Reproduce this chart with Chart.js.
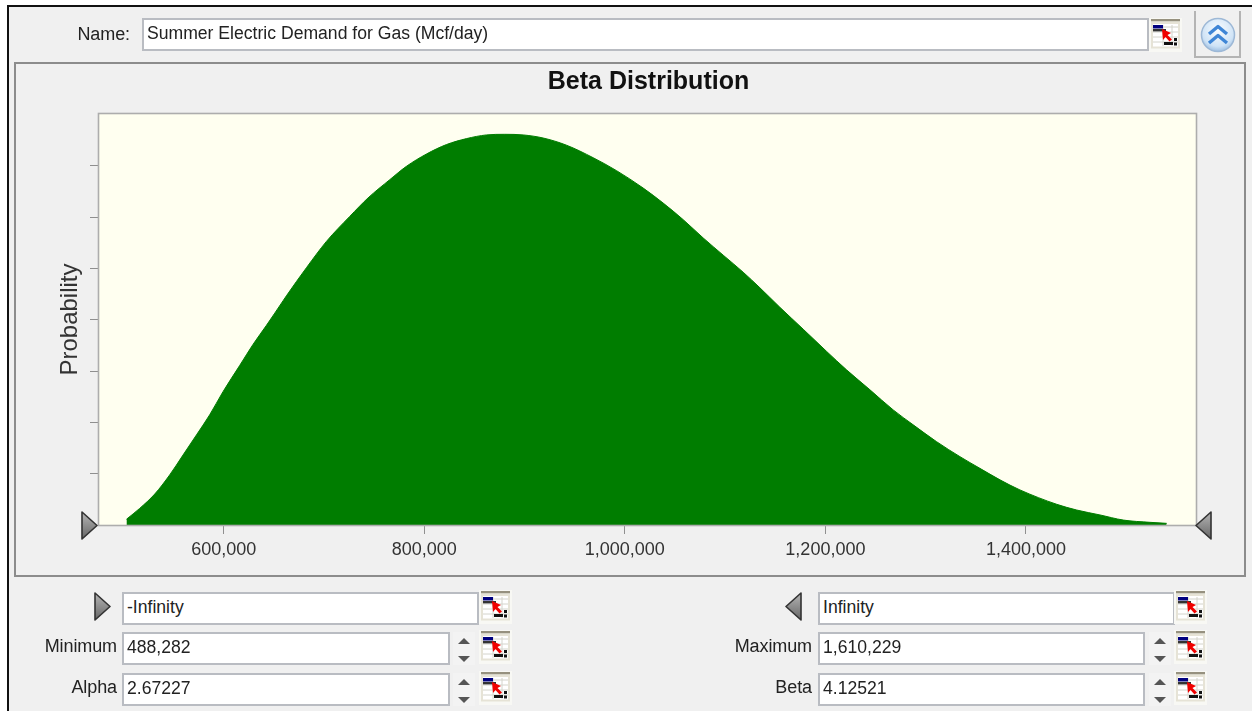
<!DOCTYPE html>
<html>
<head>
<meta charset="utf-8">
<title>Beta Distribution</title>
<script src="https://cdn.jsdelivr.net/npm/chart.js@4"></script>
<style>
html,body{margin:0;padding:0;background:#fff;overflow:hidden}
#frame{position:absolute;left:7px;top:5px;width:1245px;height:706px;box-sizing:border-box;border-left:2px solid #111;border-top:2px solid #111;background:#f0f0f0}
#panel{position:absolute;left:14px;top:62px;width:1232px;height:515px;box-sizing:border-box;border:2px solid #8c8c8c;background:#f0f0f0}
canvas{position:absolute;left:0;top:0}
.abs{position:absolute}
.lbl{position:absolute;font:18px "Liberation Sans",Arial,sans-serif;color:#222;text-align:right;white-space:nowrap;letter-spacing:-0.1px}
.box{position:absolute;box-sizing:border-box;background:#fff;border:2px solid #b9bcc2;font:17.6px "Liberation Sans",Arial,sans-serif;color:#222;padding-left:3px;white-space:nowrap;overflow:hidden}
</style>
</head>
<body>
<div id="frame"></div>
<div id="panel"></div>
<canvas id="c" width="1252" height="711"></canvas>
<div id="ui"></div>
<script>
const chartTitle = "Beta Distribution";
const yAxisTitle = "Probability";
const nameText = "Summer Electric Demand for Gas (Mcf/day)";
const xTickValues = [600000, 800000, 1000000, 1200000, 1400000];
const yTickValues = [0.25, 0.5, 0.75, 1, 1.25, 1.5, 1.75];
const demandValues = [503000,516200,531200,546100,559400,572800,586000,599300,616000,629200,642600,659200,662500,682500,702400,725700,743900,765600,782200,802200,822100,842100,862000,880300,898600,918500,941800,968400,991700,1018300,1038200,1058200,1078100,1098100,1118000,1134700,1154600,1177900,1201200,1221100,1244400,1267600,1287600,1310900,1334200,1354100,1374100,1394000,1430600,1450600,1473800,1497100,1523700,1540300];
const probabilityValues = [0.028,0.081,0.151,0.244,0.341,0.439,0.537,0.650,0.778,0.880,0.973,1.093,1.117,1.254,1.382,1.504,1.594,1.683,1.748,1.808,1.854,1.883,1.901,1.904,1.901,1.886,1.851,1.790,1.727,1.642,1.569,1.488,1.399,1.315,1.232,1.156,1.061,0.954,0.846,0.756,0.659,0.561,0.488,0.406,0.333,0.276,0.220,0.171,0.101,0.073,0.049,0.024,0.013,0.008];
const xRange = [475611, 1569576];
const yRange = [0, 2.003];

const plotFrame = {
  id: "plotFrame",
  beforeDatasetsDraw(ch) {
    const a = ch.chartArea, g = ch.ctx;
    g.save(); g.fillStyle = "#fffff0"; g.fillRect(a.left, a.top, a.width, a.height); g.restore();
  },
  afterDatasetsDraw(ch) {
    const a = ch.chartArea, g = ch.ctx;
    g.save(); g.strokeStyle = "#adadad"; g.lineWidth = 1.6;
    g.strokeRect(a.left - 0.5, a.top - 0.5, a.width + 1, a.height + 1); g.restore();
  }
};

new Chart(document.getElementById("c"), {
  type: "scatter",
  plugins: [plotFrame],
  data: { datasets: [{
    data: demandValues.map((x, i) => ({ x, y: probabilityValues[i] })),
    showLine: true, fill: "origin", backgroundColor: "#007d00", borderColor: "#007d00",
    borderWidth: 1, pointRadius: 0, cubicInterpolationMode: "monotone"
  }]},
  options: {
    responsive: false, animation: false, events: [],
    layout: { padding: { left: 50, right: 5, top: 67, bottom: 20 } },
    plugins: {
      legend: { display: false }, tooltip: { enabled: false },
      title: { display: true, text: chartTitle, align: "center", color: "#111",
        font: { family: "Liberation Sans", size: 25, weight: "bold", lineHeight: 1.2 },
        padding: { top: 0, bottom: 17 } }
    },
    scales: {
      x: {
        type: "linear", min: xRange[0], max: xRange[1],
        afterBuildTicks(s) { s.ticks = xTickValues.map(value => ({ value })); },
        afterFit(s) { s.height = 711 - 525 - 20; },
        grid: { drawOnChartArea: false, drawTicks: true, tickLength: 9, color: "#8f8f8f", lineWidth: 1 },
        border: { display: false },
        ticks: { color: "#333", maxRotation: 0, autoSkip: false, padding: 5,
          font: { family: "Liberation Sans", size: 18 },
          callback: v => Number(v).toLocaleString("en-US") }
      },
      y: {
        type: "linear", min: yRange[0], max: yRange[1],
        afterBuildTicks(s) { s.ticks = yTickValues.map(value => ({ value })); },
        afterFit(s) { s.width = 49; },
        title: { display: true, text: yAxisTitle, color: "#333", padding: { top: 5.5, bottom: 0 },
          font: { family: "Liberation Sans", size: 24, lineHeight: 1.2 } },
        grid: { drawOnChartArea: false, drawTicks: true, tickLength: 9, color: "#8f8f8f", lineWidth: 1 },
        border: { display: false },
        ticks: { display: true, padding: 0, callback: () => "" }
      },
      spacer: {
        type: "linear", position: "right", min: 0, max: 1,
        afterFit(s) { s.width = 51; },
        grid: { display: false }, border: { display: false }, ticks: { display: false }
      }
    }
  }
});

const ui = document.getElementById("ui");
function add(html) { ui.insertAdjacentHTML("beforeend", html); }
function label(text, right, top) { add(`<div class="lbl" style="right:${1252 - right}px;top:${top}px">${text}</div>`); }
function field(text, l, t, r, b) {
  add(`<div class="box" style="left:${l}px;top:${t}px;width:${r - l}px;height:${b - t}px;line-height:${b - t - 7}px">${text}</div>`);
}
function icon(x, y) {
  let grid = "";
  [9, 14, 19, 24].forEach(v => grid += `<path d="M4 ${v}H29" stroke="#d4d4cc"/>`);
  [14, 23].forEach(v => grid += `<path d="M${v} 7V28" stroke="#d4d4cc"/>`);
  add(`<svg class="abs" style="left:${x}px;top:${y}px" width="33" height="34" viewBox="0 0 33 34">
  <rect x="0" y="0" width="33" height="34" fill="#f8f8f4"/>
  <rect x="2" y="1" width="29" height="2.5" fill="#96917f"/>
  <rect x="2" y="3.5" width="29" height="27" fill="#e6e3d6"/>
  <rect x="4" y="6" width="25" height="22.5" fill="#fff"/>${grid}
  <rect x="4" y="7" width="10" height="3.5" fill="#00007f"/>
  <rect x="4" y="11" width="13" height="2.4" fill="#333"/>
  <path d="M13 11L22 15L18.5 17L23 21.5L20.5 23.5L16.5 19L14 22Z" fill="#f00000"/>
  <rect x="15" y="24" width="9" height="3" fill="#111"/>
  <rect x="25" y="20" width="3" height="3" fill="#111"/><rect x="25" y="24.5" width="3" height="3" fill="#111"/>
  </svg>`);
}
let gid = 0;
function triangle(x, y, w, h, dir) {
  const id = "g" + (gid++);
  const pts = dir > 0 ? `1,1 ${w - 1},${h / 2} 1,${h - 1}` : `${w - 1},1 1,${h / 2} ${w - 1},${h - 1}`;
  add(`<svg class="abs" style="left:${x}px;top:${y}px" width="${w}" height="${h}">
  <defs><linearGradient id="${id}" x1="0" y1="0" x2="0" y2="1"><stop offset="0" stop-color="#b5b5b5"/><stop offset="1" stop-color="#666"/></linearGradient></defs>
  <polygon points="${pts}" fill="url(#${id})" stroke="#333" stroke-width="1.6" stroke-linejoin="round"/></svg>`);
}
function spinner(cx, top) {
  add(`<svg class="abs" style="left:${cx - 11}px;top:${top}px" width="22" height="33">
  <rect width="22" height="33" fill="#f3f3f3"/>
  <polygon points="5,12 17,12 11,6" fill="#555"/>
  <polygon points="5,24 17,24 11,30" fill="#555"/></svg>`);
}

label("Name:", 130, 24);
field(nameText, 142, 18, 1149, 51);
icon(1149, 18);
add(`<div class="abs" style="left:1194px;top:11px;width:47px;height:47px;box-sizing:border-box;border:2px solid #b4b4b4;border-top:none;background:#f0f0f0"></div>
<svg class="abs" style="left:1200px;top:17px" width="36" height="36" viewBox="0 0 36 36">
<defs><radialGradient id="bub" cx="0.5" cy="0.35" r="0.7"><stop offset="0" stop-color="#fafdff"/><stop offset="0.7" stop-color="#cfe3f6"/><stop offset="1" stop-color="#8fb4dc"/></radialGradient></defs>
<circle cx="18" cy="18" r="16.5" fill="url(#bub)" stroke="#9db8d6" stroke-width="1.5"/>
<path d="M9 17L18 9.5L27 17M9 26L18 18.5L27 26" fill="none" stroke="#3f86d6" stroke-width="3.4" stroke-linejoin="round"/></svg>`);

triangle(81, 511, 17, 29, 1);
triangle(1195, 511, 17, 29, -1);

triangle(94, 592, 17, 29, 1);
field("-Infinity", 122, 592, 479, 625);
icon(479, 590);
label("Minimum", 117, 636);
field("488,282", 122, 632, 450, 665);
spinner(464, 632);
icon(479, 630);
label("Alpha", 117, 677);
field("2.67227", 122, 673, 450, 706);
spinner(464, 673);
icon(479, 671);

triangle(785, 592, 17, 29, -1);
field("Infinity", 818, 592, 1175, 625);
icon(1174, 590);
label("Maximum", 812, 636);
field("1,610,229", 818, 632, 1145, 665);
spinner(1160, 632);
icon(1174, 630);
label("Beta", 812, 677);
field("4.12521", 818, 673, 1145, 706);
spinner(1160, 673);
icon(1174, 671);
</script>
</body>
</html>
